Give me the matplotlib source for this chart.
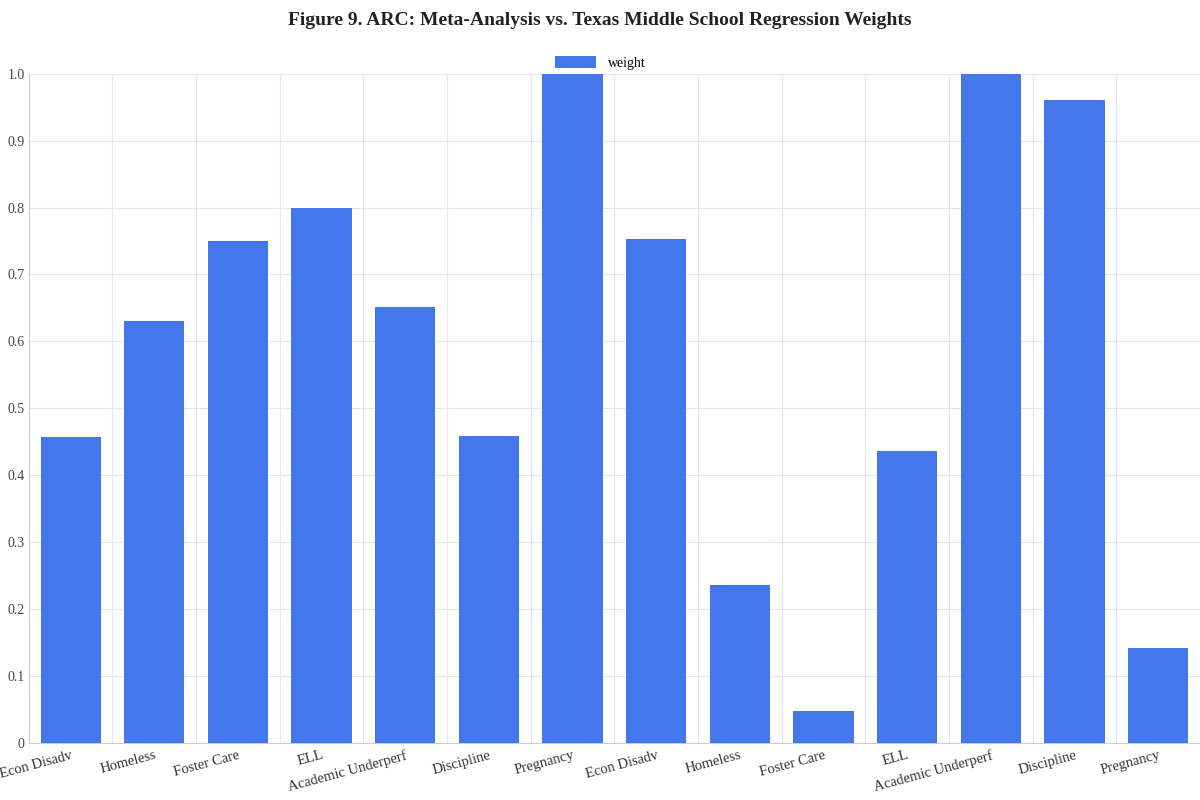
import matplotlib
matplotlib.use("Agg")
import matplotlib.pyplot as plt
import numpy as np

labels = ["Econ Disadv", "Homeless", "Foster Care", "ELL", "Academic Underperf",
          "Discipline", "Pregnancy", "Econ Disadv", "Homeless", "Foster Care",
          "ELL", "Academic Underperf", "Discipline", "Pregnancy"]
weights = [0.457, 0.630, 0.750, 0.800, 0.651, 0.459, 1.000,
           0.753, 0.236, 0.048, 0.436, 1.000, 0.960, 0.142]

plt.rcParams["font.family"] = ["Liberation Serif", "DejaVu Serif"]

fig = plt.figure(figsize=(12, 8), dpi=100)
ax = fig.add_axes([0.024, 0.071, 0.976, 0.837])
x = np.arange(len(labels))
ax.bar(x, weights, width=0.72, color="#3a70ea", alpha=0.95, label="weight", zorder=3)

ax.set_xlim(-0.5, len(labels) - 0.5)
ax.set_ylim(0, 1.0)
ax.set_yticks(np.arange(0, 1.01, 0.1))
ax.set_yticklabels(["0"] + [f"{v:.1f}" for v in np.arange(0.1, 1.01, 0.1)], fontsize=10, color="#444444")
ax.set_xticks(x)
ax.set_xticklabels(labels, rotation=15, ha="right", rotation_mode="anchor", fontsize=10.5, color="#333333")
ax.set_xticks(np.arange(0.5, len(labels) - 0.5), minor=True)
ax.tick_params(axis="x", which="both", length=0, pad=4)
ax.tick_params(axis="y", length=0, pad=3)
ax.grid(axis="y", color="#e3e7ef", linewidth=0.8, zorder=0)
ax.grid(axis="x", which="minor", color="#e3e7ef", linewidth=0.8, zorder=0)
for s in ["top", "right"]:
    ax.spines[s].set_visible(False)
ax.spines["left"].set_color("#cccccc")
ax.spines["bottom"].set_color("#cccccc")

fig.legend(loc="upper center", bbox_to_anchor=(0.5, 0.945), frameon=False, fontsize=10,
           handlelength=3, handleheight=0.9)
fig.suptitle("Figure 9. ARC: Meta-Analysis vs. Texas Middle School Regression Weights",
             y=0.985, fontsize=14, fontweight="bold", color="#222222")
fig.savefig("out.png", dpi=100)
